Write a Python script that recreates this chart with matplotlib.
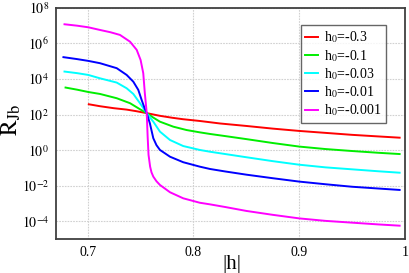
import numpy as np
import matplotlib
matplotlib.use("Agg")
import matplotlib.pyplot as plt

plt.rcParams['font.family'] = ['Liberation Serif', 'DejaVu Serif']
plt.rcParams['mathtext.fontset'] = 'stix'

# |h| values and log10(R_Jb) values
h_red = [0.701, 0.7116, 0.7245, 0.7368, 0.746, 0.7558, 0.7683, 0.780, 0.790, 0.806, 0.825, 0.85, 0.875, 0.90, 0.925, 0.95, 0.975, 0.995]
logR_red = [2.58, 2.47, 2.36, 2.28, 2.19, 2.08, 1.93, 1.82, 1.74, 1.64, 1.50, 1.36, 1.21, 1.08, 0.97, 0.86, 0.77, 0.70]

h_green = [0.679, 0.690, 0.7005, 0.7116, 0.7274, 0.740, 0.7494, 0.7558, 0.762, 0.7683, 0.7809, 0.7935, 0.806, 0.8156, 0.83, 0.85, 0.875, 0.90, 0.925, 0.95, 0.975, 0.995]
logR_green = [3.52, 3.40, 3.27, 3.16, 2.92, 2.64, 2.30, 2.08, 1.83, 1.60, 1.32, 1.13, 1.00, 0.91, 0.79, 0.62, 0.40, 0.20, 0.06, -0.05, -0.15, -0.22]

h_cyan = [0.678, 0.690, 0.7005, 0.7116, 0.7274, 0.7368, 0.7431, 0.7494, 0.7558, 0.762, 0.7683, 0.7778, 0.7903, 0.806, 0.8156, 0.83, 0.85, 0.875, 0.90, 0.925, 0.95, 0.975, 0.995]
logR_cyan = [4.42, 4.33, 4.23, 4.04, 3.80, 3.48, 3.16, 2.64, 2.08, 1.60, 1.04, 0.57, 0.23, 0.01, -0.09, -0.22, -0.40, -0.62, -0.82, -0.97, -1.08, -1.19, -1.27]

h_blue = [0.677, 0.690, 0.7005, 0.7116, 0.7274, 0.7368, 0.7431, 0.7478, 0.751, 0.7541, 0.7558, 0.7588, 0.762, 0.765, 0.7683, 0.7778, 0.7903, 0.806, 0.8156, 0.83, 0.85, 0.875, 0.90, 0.925, 0.95, 0.975, 0.995]
logR_blue = [5.23, 5.12, 5.02, 4.89, 4.61, 4.23, 3.85, 3.39, 2.82, 2.30, 2.08, 1.50, 0.67, 0.28, 0.01, -0.37, -0.68, -0.93, -1.06, -1.20, -1.38, -1.58, -1.77, -1.92, -2.06, -2.16, -2.24]

h_mag = [0.678, 0.690, 0.7005, 0.7116, 0.7216, 0.7305, 0.740, 0.7463, 0.750, 0.7525, 0.754, 0.7558, 0.7567, 0.7575, 0.759, 0.7603, 0.762, 0.765, 0.7683, 0.7778, 0.7903, 0.806, 0.8156, 0.83, 0.85, 0.875, 0.90, 0.925, 0.95, 0.975, 0.995]
logR_mag = [7.08, 7.00, 6.91, 6.76, 6.63, 6.48, 6.10, 5.64, 5.07, 4.33, 3.20, 2.08, 0.70, -0.27, -0.93, -1.25, -1.49, -1.75, -1.96, -2.37, -2.71, -2.96, -3.05, -3.20, -3.42, -3.64, -3.84, -3.98, -4.08, -4.18, -4.25]

labels = ['h$_0$=-0.3', 'h$_0$=-0.1', 'h$_0$=-0.03', 'h$_0$=-0.01', 'h$_0$=-0.001']
colors = ['#ff0000', '#00ee00', '#00ffff', '#0000ff', '#ff00ff']

x_ticks = [0.7, 0.8, 0.9, 1.0]
x_ticklabels = ['0.7', '0.8', '0.9', '1']
y_exps = [-4, -2, 0, 2, 4, 6, 8]

fig = plt.figure(figsize=(4.09, 2.73), dpi=100)
ax = fig.add_axes([0.137, 0.1245, 0.853, 0.8465])

series = [(h_red, logR_red), (h_green, logR_green), (h_cyan, logR_cyan),
          (h_blue, logR_blue), (h_mag, logR_mag)]
for (hx, ly), lab, c in zip(series, labels, colors):
    ax.plot(hx, 10.0 ** np.asarray(ly), color=c, lw=1.4, label=lab)

ax.set_yscale('log')
ax.set_xlim(0.67, 1.0)
ax.set_ylim(1e-5, 1e8)
ax.set_xticks(x_ticks)
ax.set_xticklabels(x_ticklabels)
ax.set_yticks([10.0 ** e for e in y_exps])
ax.set_yticklabels(['$10^{%d}$' % e for e in y_exps])
ax.yaxis.set_minor_locator(matplotlib.ticker.NullLocator())
ax.tick_params(axis='both', length=0, labelsize=10, pad=5)
ax.grid(True, color='0.82', lw=0.8, linestyle=(0, (1.5, 1)))

for s in ax.spines.values():
    s.set_color('#404040')
    s.set_linewidth(1.3)

ax.set_xlabel('|h|', fontsize=15)
ax.xaxis.set_label_coords(0.504, -0.068)
ax.xaxis.label.set_va('top')
ax.set_ylabel(r'$\mathrm{R}_{\mathrm{Jb}}$', fontsize=17)
ax.yaxis.set_label_coords(-0.095, 0.515)

leg = ax.legend(loc='upper right', bbox_to_anchor=(0.946, 0.925), fontsize=10,
                frameon=True, fancybox=False, handlelength=0.95, handletextpad=0.45,
                labelspacing=0.18, borderpad=0.3, borderaxespad=0)
leg.get_frame().set_edgecolor('#404040')
leg.get_frame().set_linewidth(1.0)

fig.savefig('out.png', dpi=100)
